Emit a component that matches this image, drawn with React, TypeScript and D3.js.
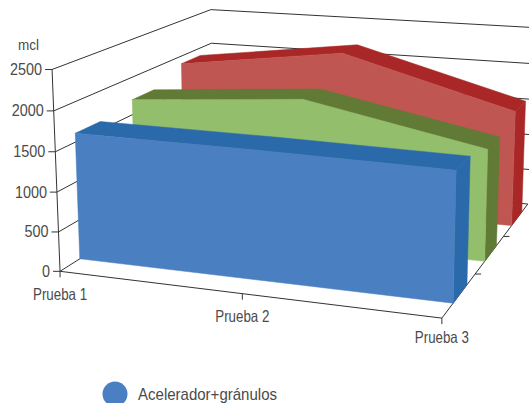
import React from 'react';
import * as d3 from 'd3';

const categories = ['Prueba 1', 'Prueba 2', 'Prueba 3'];
const valueTicks = [0, 500, 1000, 1500, 2000, 2500];
const blueValues = [1610, 1600, 1570];
const greenValues = [1700, 1880, 1430];
const redValues = [1890, 2190, 1560];
const legendLabel = 'Acelerador+gránulos';
const unitLabel = 'mcl';

const seriesList = [
  { depth: 2, values: redValues, face: '#C05651', dark: '#A92727' },
  { depth: 1, values: greenValues, face: '#93BF6C', dark: '#617A35' },
  { depth: 0, values: blueValues, face: '#4A7FC1', dark: '#2A6AAA' },
];

// Camera calibration: [x index, value share, depth] -> [px, py]
const calibration: number[][] = [
  [0, 0, 0, 60.5, 270.5],
  [0, 1, 0, 52, 69],
  [2, 0, 0, 442, 317],
  [2, 0, 1, 475, 274],
  [2, 0, 2, 503, 236.7],
  [2, 0, 3, 528, 204],
  [0, 1, 3, 211, 10],
  [0, 0.8, 3, 211, 43],
  [2, 1, 3, 534, 28.3],
  [2, 0.5, 3, 531, 116],
  [1, 0, 0, 242, 296],
];

function solveCamera(pts: number[][]): number[] {
  const n = 11;
  const A: number[][] = d3.range(n).map(() => new Array(n + 1).fill(0));
  const add = (r: number[], b: number) => {
    for (let i = 0; i < n; i++) {
      for (let j = 0; j < n; j++) A[i][j] += r[i] * r[j];
      A[i][n] += r[i] * b;
    }
  };
  pts.forEach(([x, y, z, u0, v0]) => {
    const u = u0 / 500;
    const v = v0 / 500;
    add([x, y, z, 1, 0, 0, 0, 0, -u * x, -u * y, -u * z], u);
    add([0, 0, 0, 0, x, y, z, 1, -v * x, -v * y, -v * z], v);
  });
  for (let c = 0; c < n; c++) {
    let p = c;
    for (let r = c + 1; r < n; r++) if (Math.abs(A[r][c]) > Math.abs(A[p][c])) p = r;
    [A[c], A[p]] = [A[p], A[c]];
    for (let r = 0; r < n; r++) {
      if (r === c) continue;
      const f = A[r][c] / A[c][c];
      for (let k = c; k <= n; k++) A[r][k] -= f * A[c][k];
    }
  }
  return A.map((row, i) => row[n] / row[i]);
}

const cam = solveCamera(calibration);
const xScale = d3.scalePoint<string>().domain(categories).range([0, 2]);
const vScale = d3.scaleLinear().domain([0, 2500]).range([0, 1]);

function project(x: number, value: number, z: number): [number, number] {
  const y = vScale(value);
  const w = cam[8] * x + cam[9] * y + cam[10] * z + 1;
  return [
    (500 * (cam[0] * x + cam[1] * y + cam[2] * z + cam[3])) / w,
    (500 * (cam[4] * x + cam[5] * y + cam[6] * z + cam[7])) / w,
  ];
}

const pathOf = (pts: [number, number][], close = true) =>
  (d3.line()(pts) as string) + (close ? 'Z' : '');

const FONT = '"Liberation Sans", Arial, sans-serif';
const INK = '#4a4a4a';
const LINE = '#333333';
const SLAB_FRONT = 0.32;
const SLAB_BACK = 0.74;
const LABEL_DROP = [29, 28.5, 24.5];

export default function App() {
  const xs = categories.map((c) => xScale(c) as number);
  return (
    <svg width={529} height={403} style={{ position: 'absolute', left: 0, top: 0 }} fontFamily={FONT}>
      <rect width={529} height={403} fill="#fff" />
      {valueTicks.map((t) => (
        <path key={'g' + t} d={pathOf([project(0, t, 0), project(0, t, 3), project(2, t, 3)], false)} fill="none" stroke={LINE} strokeWidth={1} />
      ))}
      <path d={pathOf([project(0, 0, 0), project(2, 0, 0), project(2, 0, 3)], false)} fill="none" stroke={LINE} strokeWidth={1} />
      <path d={pathOf([project(0, 0, 0), project(0, 2500, 0)], false)} fill="none" stroke={LINE} strokeWidth={1} />
      {valueTicks.map((t) => {
        const [px, py] = project(0, t, 0);
        return (
          <g key={'t' + t}>
            <line x1={px - 7} x2={px} y1={py} y2={py} stroke={LINE} />
            <text x={px - 10} y={py + 5.5} textAnchor="end" fontSize={16} fill={INK} textLength={String(t).length * 8} lengthAdjust="spacingAndGlyphs">{t}</text>
          </g>
        );
      })}
      {categories.map((c, i) => {
        const [px, py] = project(xs[i], 0, 0);
        return (
          <g key={c}>
            <line x1={px} x2={px} y1={py} y2={py + 6} stroke={LINE} />
            <text x={px} y={py + LABEL_DROP[i]} textAnchor="middle" fontSize={16.5} fill={INK} textLength={54} lengthAdjust="spacingAndGlyphs">{c}</text>
          </g>
        );
      })}
      {[1, 2].map((z) => {
        const [px, py] = project(2, 0, z);
        return <line key={'z' + z} x1={px} x2={px + 6} y1={py} y2={py} stroke={LINE} />;
      })}
      {seriesList.map((s) => {
        const z0 = s.depth + SLAB_FRONT;
        const z1 = s.depth + SLAB_BACK;
        const frontTop = s.values.map((v, i) => project(xs[i], v, z0));
        const backTop = s.values.map((v, i) => project(xs[i], v, z1));
        const last = xs[xs.length - 1];
        const lastV = s.values[s.values.length - 1];
        const front = [project(xs[0], 0, z0), ...frontTop, project(last, 0, z0)];
        const top = [...frontTop, ...backTop.slice().reverse()];
        const side = [project(last, 0, z0), project(last, lastV, z0), project(last, lastV, z1), project(last, 0, z1)];
        return (
          <g key={s.depth}>
            <path d={pathOf(top)} fill={s.dark} stroke={s.dark} strokeWidth={0.5} />
            <path d={pathOf(side)} fill={s.dark} stroke={s.dark} strokeWidth={0.5} />
            <path d={pathOf(front)} fill={s.face} stroke={s.face} strokeWidth={0.5} />
          </g>
        );
      })}
      <text x={18} y={50} fontSize={15} fill={INK} textLength={21} lengthAdjust="spacingAndGlyphs">{unitLabel}</text>
      <circle cx={115} cy={394} r={12.5} fill="#4A7FC1" />
      <text x={138} y={400} fontSize={17} fill={INK} textLength={139} lengthAdjust="spacingAndGlyphs">{legendLabel}</text>
    </svg>
  );
}
